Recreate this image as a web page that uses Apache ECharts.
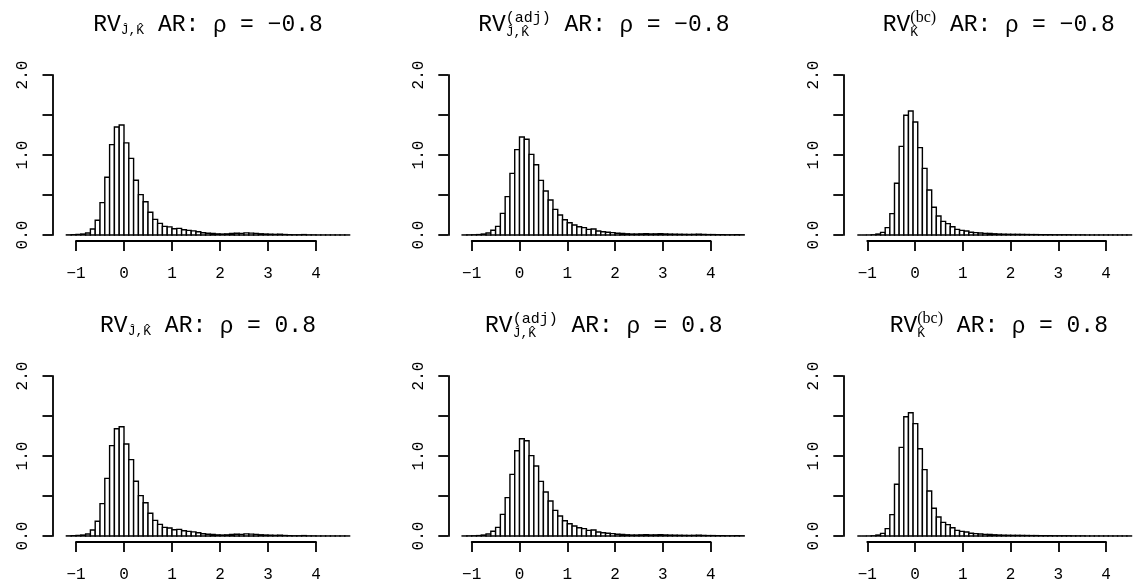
<!DOCTYPE html>
<html>
<head>
<meta charset="utf-8">
<script src="https://cdn.jsdelivr.net/npm/echarts@6/dist/echarts.min.js"></script>
<style>
html, body { margin: 0; padding: 0; background: #fff; }
#chart { width: 1146px; height: 585px; }
</style>
</head>
<body>
<div id="chart"></div>
<script>
// histogram bins: width 0.1, first break at -1.2
const binStart = -1.2
const binWidth = 0.1
const xTickMin = -1
const xTickMax = 4
const yTickMax = 2

// densities, one value per bin (-1.2 .. 4.7)
const densJK_neg = [
  0.002, 0.004, 0.007, 0.012, 0.025, 0.075, 0.185, 0.405, 0.722, 1.13, 1.35, 1.375,
  1.152, 0.958, 0.685, 0.505, 0.415, 0.285, 0.195, 0.145, 0.108, 0.102,
  0.078, 0.083, 0.065, 0.058, 0.052, 0.04, 0.028, 0.022, 0.018, 0.014,
  0.012, 0.014, 0.018, 0.022, 0.02, 0.026, 0.024, 0.02, 0.015, 0.012,
  0.01, 0.008, 0.01, 0.006, 0.004, 0.003, 0.003, 0.005, 0.002, 0.002,
  0.001, 0.001, 0.001, 0.001, 0.001, 0.001, 0.001
]
const densAdj_neg = [
  0.001, 0.002, 0.003, 0.005, 0.012, 0.025, 0.06, 0.108, 0.27, 0.48, 0.77, 1.067,
  1.225, 1.196, 1.008, 0.879, 0.683, 0.55, 0.438, 0.32, 0.25, 0.19,
  0.154, 0.125, 0.104, 0.092, 0.07, 0.075, 0.05, 0.04, 0.035, 0.03,
  0.022, 0.018, 0.015, 0.012, 0.012, 0.014, 0.016, 0.013, 0.014, 0.016,
  0.013, 0.011, 0.01, 0.009, 0.008, 0.007, 0.008, 0.01, 0.007, 0.005,
  0.005, 0.004, 0.004, 0.003, 0.003, 0.004, 0.003
]
const densBC_neg = [
  0, 0, 0.001, 0.003, 0.012, 0.033, 0.092, 0.267, 0.646, 1.108, 1.496, 1.55,
  1.412, 1.092, 0.833, 0.562, 0.346, 0.237, 0.17, 0.142, 0.104, 0.07,
  0.058, 0.05, 0.035, 0.03, 0.025, 0.02, 0.018, 0.015, 0.012, 0.01,
  0.009, 0.008, 0.008, 0.007, 0.006, 0.005, 0.005, 0.004, 0.004, 0.004,
  0.003, 0.003, 0.003, 0.003, 0.002, 0.002, 0.002, 0.001, 0.001, 0.001,
  0.001, 0.001, 0.001, 0.001, 0.001, 0.001, 0.001
]
const densJK_pos = [
  0.002, 0.004, 0.007, 0.012, 0.025, 0.075, 0.185, 0.405, 0.72, 1.13, 1.34, 1.365,
  1.15, 0.955, 0.685, 0.505, 0.415, 0.285, 0.195, 0.145, 0.108, 0.1,
  0.078, 0.083, 0.065, 0.058, 0.052, 0.04, 0.028, 0.022, 0.018, 0.014,
  0.012, 0.014, 0.018, 0.022, 0.02, 0.026, 0.024, 0.02, 0.015, 0.012,
  0.01, 0.008, 0.01, 0.006, 0.004, 0.003, 0.003, 0.005, 0.002, 0.002,
  0.001, 0.001, 0.001, 0.001, 0.001, 0.001, 0.001
]
const densAdj_pos = [
  0.001, 0.002, 0.003, 0.005, 0.012, 0.025, 0.06, 0.108, 0.27, 0.48, 0.77, 1.065,
  1.215, 1.19, 1.005, 0.875, 0.683, 0.55, 0.438, 0.32, 0.25, 0.19,
  0.154, 0.125, 0.104, 0.092, 0.07, 0.075, 0.05, 0.04, 0.035, 0.03,
  0.022, 0.018, 0.015, 0.012, 0.012, 0.014, 0.016, 0.013, 0.014, 0.016,
  0.013, 0.011, 0.01, 0.009, 0.008, 0.007, 0.008, 0.01, 0.007, 0.005,
  0.005, 0.004, 0.004, 0.003, 0.003, 0.004, 0.003
]
const densBC_pos = [
  0, 0, 0.001, 0.003, 0.012, 0.033, 0.092, 0.267, 0.646, 1.108, 1.49, 1.54,
  1.405, 1.09, 0.83, 0.562, 0.346, 0.237, 0.17, 0.142, 0.104, 0.07,
  0.058, 0.05, 0.035, 0.03, 0.025, 0.02, 0.018, 0.015, 0.012, 0.01,
  0.009, 0.008, 0.008, 0.007, 0.006, 0.005, 0.005, 0.004, 0.004, 0.004,
  0.003, 0.003, 0.003, 0.003, 0.002, 0.002, 0.002, 0.001, 0.001, 0.001,
  0.001, 0.001, 0.001, 0.001, 0.001, 0.001, 0.001
]

const rhoLabels = ['−0.8', '0.8']
const panels = [
  { row: 0, col: 0, kind: 'jk', rho: rhoLabels[0], dens: densJK_neg },
  { row: 0, col: 1, kind: 'adj', rho: rhoLabels[0], dens: densAdj_neg },
  { row: 0, col: 2, kind: 'bc', rho: rhoLabels[0], dens: densBC_neg },
  { row: 1, col: 0, kind: 'jk', rho: rhoLabels[1], dens: densJK_pos },
  { row: 1, col: 1, kind: 'adj', rho: rhoLabels[1], dens: densAdj_pos },
  { row: 1, col: 2, kind: 'bc', rho: rhoLabels[1], dens: densBC_pos }
]

// layout (pixels)
const cols = [
  { yAxisX: 52.5, zeroX: 124, unit: 48 },
  { yAxisX: 448.3, zeroX: 519.5, unit: 47.8 },
  { yAxisX: 843.3, zeroX: 915, unit: 47.75 }
]
const rows = [
  { top: 75, bottom: 235, xAxisY: 241, titleY: 25 },
  { top: 376, bottom: 536, xAxisY: 542, titleY: 326 }
]

const MONO = '"Liberation Mono", "Courier New", monospace'
const SERIF = '"Liberation Serif", "Times New Roman", serif'
const SANS = '"Liberation Sans", "DejaVu Sans", sans-serif'
const axisLine = { lineStyle: { color: '#000', width: 1.8 } }
const axisTick = { length: 10, inside: false, lineStyle: { color: '#000', width: 1.8 } }

function minusFmt(v) {
  return v < 0 ? '−' + Math.abs(v) : String(v)
}

function renderBar(params, api) {
  const lo = api.coord([api.value(0), 0])
  const hi = api.coord([api.value(1), api.value(2)])
  return {
    type: 'rect',
    shape: { x: lo[0], y: hi[1], width: hi[0] - lo[0], height: lo[1] - hi[1] },
    style: { fill: '#fff', stroke: '#000', lineWidth: 1.4 }
  }
}

// title pieces laid out with measured text widths
const ctx = document.createElement('canvas').getContext('2d')
function textW(text, font) {
  ctx.font = font
  return ctx.measureText(text).width
}

function titlePieces(p) {
  const main = 'normal 23px ' + MONO
  const small = 'normal 13px ' + MONO
  const pieces = [{ text: 'RV', font: main, dy: 0 }]
  if (p.kind === 'jk') {
    pieces.push({ text: 'Ĵ,K̂', font: small, dy: 6 })
  } else if (p.kind === 'adj') {
    pieces.push({ stack: [
      { text: '(adj)', font: 'normal 15px ' + MONO, dy: -7 },
      { text: 'Ĵ,K̂', font: small, dy: 8 }
    ] })
  } else {
    pieces.push({ stack: [
      { text: '(bc)', font: 'normal 16px ' + SERIF, dy: -7 },
      { text: 'K̂', font: small, dy: 8 }
    ] })
  }
  pieces.push({ text: ' AR: ', font: main, dy: 0 })
  pieces.push({ text: 'ρ', font: 'normal 23px ' + SANS, dy: 1 })
  pieces.push({ text: ' = ' + p.rho, font: main, dy: 0 })
  return pieces
}

function buildTitle(p, cx, cy) {
  const pieces = titlePieces(p)
  const widths = pieces.map(pc => pc.stack
    ? Math.max(...pc.stack.map(s => textW(s.text, s.font)))
    : textW(pc.text, pc.font))
  const total = widths.reduce((a, b) => a + b, 0)
  let x = cx - total / 2
  const els = []
  pieces.forEach((pc, i) => {
    const parts = pc.stack || [pc]
    parts.forEach(s => {
      els.push({
        type: 'text',
        x: x,
        y: cy + s.dy,
        silent: true,
        style: {
          text: s.text, font: s.font, fill: '#000',
          textAlign: 'left', textVerticalAlign: 'middle',
          align: 'left', verticalAlign: 'middle'
        }
      })
    })
    x += widths[i]
  })
  return els
}

const grid = []
const xAxis = []
const yAxis = []
const series = []
const graphic = []

panels.forEach(p => {
  const c = cols[p.col]
  const r = rows[p.row]
  const plotW = 311
  const xMin = (c.yAxisX - c.zeroX) / c.unit
  const xMax = xMin + plotW / c.unit

  // plot region: bars + y axis
  const gPlot = grid.length
  grid.push({ left: c.yAxisX, top: r.top, width: plotW, height: r.bottom - r.top })
  xAxis.push({ gridIndex: gPlot, type: 'value', min: xMin, max: xMax, show: false })
  yAxis.push({
    gridIndex: gPlot, type: 'value', min: 0, max: yTickMax, interval: 0.5,
    position: 'left',
    axisLine: Object.assign({ show: true, onZero: false }, axisLine), axisTick: axisTick,
    splitLine: { show: false },
    axisLabel: {
      rotate: 90, margin: 22, color: '#000', fontFamily: MONO, fontSize: 16,
      formatter: v => (v % 1 === 0 ? v.toFixed(1) : '')
    }
  })
  series.push({
    type: 'custom',
    xAxisIndex: gPlot, yAxisIndex: gPlot,
    renderItem: renderBar,
    encode: { x: [0, 1], y: 2 },
    data: p.dens.map((d, i) => [binStart + i * binWidth, binStart + (i + 1) * binWidth, d]),
    silent: true
  })

  // x axis spanning only the tick range, offset below the plot
  const gX = grid.length
  grid.push({
    left: c.zeroX + xTickMin * c.unit,
    width: (xTickMax - xTickMin) * c.unit,
    top: r.xAxisY - 10, height: 10
  })
  xAxis.push({
    gridIndex: gX, type: 'value', min: xTickMin, max: xTickMax, interval: 1,
    position: 'bottom',
    axisLine: Object.assign({ show: true, onZero: false }, axisLine), axisTick: axisTick,
    splitLine: { show: false },
    axisLabel: { margin: 25, color: '#000', fontFamily: MONO, fontSize: 16, formatter: minusFmt }
  })
  yAxis.push({ gridIndex: gX, type: 'value', show: false })

  graphic.push(...buildTitle(p, c.yAxisX + plotW / 2, r.titleY))
})

const chart = echarts.init(document.getElementById('chart'), null, { renderer: 'canvas' })
chart.setOption({
  animation: false,
  backgroundColor: '#fff',
  grid: grid,
  xAxis: xAxis,
  yAxis: yAxis,
  series: series,
  graphic: graphic
})
</script>
</body>
</html>
